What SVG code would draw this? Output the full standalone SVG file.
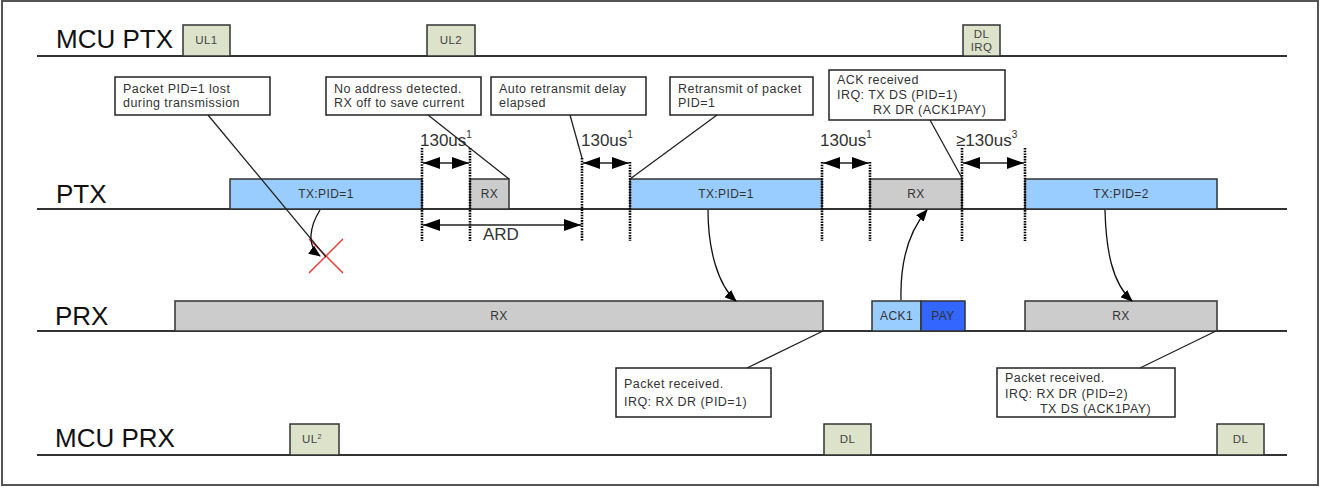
<svg xmlns="http://www.w3.org/2000/svg" width="1326" height="491" viewBox="0 0 1326 491">
<defs>
<style>
text{font-family:"Liberation Sans",Arial,sans-serif;fill:#333}
.lane{font-size:26px;fill:#111}
.base{stroke:#333;stroke-width:1.8;fill:none}
.mcu{fill:#dde2cb;stroke:#333;stroke-width:1.5}
.mt{font-size:11.5px;text-anchor:middle;fill:#444;letter-spacing:0.4px}
.tx{fill:#99ccff;stroke:#333;stroke-width:1.5}
.rx{fill:#cccccc;stroke:#333;stroke-width:1.5}
.pay{fill:#3366ff;stroke:#333;stroke-width:1.5}
.bt{font-size:12px;text-anchor:middle;fill:#333;letter-spacing:0.4px}
.call{fill:#fff;stroke:#222;stroke-width:1.5}
.ct{font-size:12.5px;fill:#333;letter-spacing:0.45px}
.lead{stroke:#222;stroke-width:1.3;fill:none}
.dot{stroke:#000;stroke-width:2.6;stroke-dasharray:1.6 1.1;fill:none}
.dim{stroke:#222;stroke-width:1.5;fill:none;marker-start:url(#big);marker-end:url(#big)}
.dl{font-size:17px;fill:#333}
.sup{font-size:10px}
.cur{stroke:#111;stroke-width:1.3;fill:none;marker-end:url(#sm)}
</style>
<marker id="big" markerWidth="17" markerHeight="12" refX="17" refY="6" orient="auto-start-reverse" markerUnits="userSpaceOnUse"><path d="M0,0 L17,6 L0,12 z" fill="#000"/></marker>
<marker id="sm" markerWidth="12" markerHeight="10" refX="11" refY="5" orient="auto" markerUnits="userSpaceOnUse"><path d="M0,0 L12,5 L0,10 z" fill="#000"/></marker>
</defs>
<rect x="2" y="1" width="1316" height="484" fill="#fff" stroke="#555" stroke-width="2"/>

<g id="lanes">
<line class="base" x1="37" y1="56" x2="1287" y2="56"/>
<line class="base" x1="37" y1="209" x2="1287" y2="209"/>
<line class="base" x1="37" y1="331" x2="1287" y2="331"/>
<line class="base" x1="37" y1="455" x2="1287" y2="455"/>
<text class="lane" x="56" y="48">MCU PTX</text>
<text class="lane" x="56" y="203">PTX</text>
<text class="lane" x="55" y="325">PRX</text>
<text class="lane" x="55" y="447">MCU PRX</text>
</g>

<g id="mcu-ptx-ul1"><rect class="mcu" x="183" y="25" width="47" height="31"/><text class="mt" x="206.5" y="44">UL1</text></g>
<g id="mcu-ptx-ul2"><rect class="mcu" x="427" y="25" width="48" height="31"/><text class="mt" x="451" y="44">UL2</text></g>
<g id="mcu-ptx-dlirq"><rect class="mcu" x="963" y="25" width="37" height="31"/><text class="mt" x="981.5" y="38">DL</text><text class="mt" x="981.5" y="51">IRQ</text></g>

<g id="mcu-prx-ul"><rect class="mcu" x="290" y="424" width="49" height="31"/><text class="mt" x="312" y="443">UL<tspan font-size="7" dy="-4">2</tspan></text></g>
<g id="mcu-prx-dl1"><rect class="mcu" x="824" y="424" width="47" height="31"/><text class="mt" x="847.5" y="443">DL</text></g>
<g id="mcu-prx-dl2"><rect class="mcu" x="1217" y="424" width="47" height="31"/><text class="mt" x="1240.5" y="443">DL</text></g>

<g id="ptx-tx1"><rect class="tx" x="230" y="179" width="192" height="30"/><text class="bt" x="326" y="198">TX:PID=1</text></g>
<g id="ptx-rx1"><rect class="rx" x="470" y="179" width="39" height="30"/><text class="bt" x="489.5" y="198">RX</text></g>
<g id="ptx-tx2"><rect class="tx" x="630" y="179" width="192" height="30"/><text class="bt" x="726" y="198">TX:PID=1</text></g>
<g id="ptx-rx2"><rect class="rx" x="870" y="179" width="92" height="30"/><text class="bt" x="916" y="198">RX</text></g>
<g id="ptx-tx3"><rect class="tx" x="1025" y="179" width="192" height="30"/><text class="bt" x="1121" y="198">TX:PID=2</text></g>

<g id="prx-rx1"><rect class="rx" x="175" y="301" width="648" height="30"/><text class="bt" x="499" y="320">RX</text></g>
<g id="prx-ack"><rect class="tx" x="872" y="301" width="49" height="30"/><text class="bt" x="896.5" y="320">ACK1</text></g>
<g id="prx-pay"><rect class="pay" x="921" y="301" width="44" height="30"/><text class="bt" x="943" y="320" fill="#112">PAY</text></g>
<g id="prx-rx2"><rect class="rx" x="1025" y="301" width="192" height="30"/><text class="bt" x="1121" y="320">RX</text></g>

<g id="timing">
<line class="dot" x1="422" y1="148" x2="422" y2="241"/>
<line class="dot" x1="470" y1="148" x2="470" y2="241"/>
<line class="dot" x1="582" y1="158" x2="582" y2="241"/>
<line class="dot" x1="630" y1="162" x2="630" y2="241"/>
<line class="dot" x1="822" y1="162" x2="822" y2="241"/>
<line class="dot" x1="870" y1="162" x2="870" y2="241"/>
<line class="dot" x1="962" y1="148" x2="962" y2="241"/>
<line class="dot" x1="1025" y1="148" x2="1025" y2="241"/>
<line class="dim" x1="423" y1="163" x2="469" y2="163"/>
<line class="dim" x1="583" y1="163" x2="629" y2="163"/>
<line class="dim" x1="823" y1="163" x2="869" y2="163"/>
<line class="dim" x1="963" y1="163" x2="1024" y2="163"/>
<line class="dim" x1="423" y1="225" x2="581" y2="225"/>
<text class="dl" x="420" y="146">130us<tspan class="sup" dy="-8">1</tspan></text>
<text class="dl" x="581" y="146">130us<tspan class="sup" dy="-8">1</tspan></text>
<text class="dl" x="820" y="146">130us<tspan class="sup" dy="-8">1</tspan></text>
<text class="dl" x="956" y="146">≥130us<tspan class="sup" dy="-8">3</tspan></text>
<text class="dl" x="483" y="240">ARD</text>
</g>

<g id="note-lost"><rect class="call" x="115" y="77" width="155" height="38"/><text class="ct" x="123" y="93">Packet PID=1 lost</text><text class="ct" x="123" y="107">during transmission</text></g>
<g id="note-noaddr"><rect class="call" x="326" y="77" width="155" height="38"/><text class="ct" x="334" y="93">No address detected.</text><text class="ct" x="334" y="107">RX off to save current</text></g>
<g id="note-ard"><rect class="call" x="491" y="77" width="155" height="38"/><text class="ct" x="499" y="93">Auto retransmit delay</text><text class="ct" x="499" y="107">elapsed</text></g>
<g id="note-retx"><rect class="call" x="670" y="77" width="143" height="38"/><text class="ct" x="678" y="93">Retransmit of packet</text><text class="ct" x="678" y="107">PID=1</text></g>
<g id="note-ack"><rect class="call" x="829" y="70" width="176" height="50"/><text class="ct" x="837" y="84">ACK received</text><text class="ct" x="837" y="99">IRQ: TX DS (PID=1)</text><text class="ct" x="873" y="114">RX DR (ACK1PAY)</text></g>
<g id="note-rx1"><rect class="call" x="616" y="368" width="155" height="49"/><text class="ct" x="624" y="388">Packet received.</text><text class="ct" x="624" y="406">IRQ: RX DR (PID=1)</text></g>
<g id="note-rx2"><rect class="call" x="997" y="368" width="178" height="49"/><text class="ct" x="1005" y="382">Packet received.</text><text class="ct" x="1005" y="398">IRQ: RX DR (PID=2)</text><text class="ct" x="1040" y="413">TX DS (ACK1PAY)</text></g>

<g id="lost-mark"><path d="M309,239 L343,273 M343,239 L309,273" stroke="#ee3333" stroke-width="1.4" fill="none"/></g>

<g id="connectors">
<line class="lead" x1="208" y1="115" x2="326" y2="257"/>
<line class="lead" x1="428" y1="115" x2="509" y2="179"/>
<line class="lead" x1="570" y1="115" x2="582" y2="158"/>
<line class="lead" x1="717" y1="115" x2="630" y2="179"/>
<line class="lead" x1="930" y1="120" x2="962" y2="178"/>
<line class="lead" x1="747" y1="368" x2="823" y2="331"/>
<line class="lead" x1="1140" y1="368" x2="1216" y2="331"/>
<path class="cur" d="M320,210 C310,226 306,246 320,256"/>
<path class="cur" d="M708,210 C708,250 718,285 736,301"/>
<path class="cur" d="M901,300 C900,260 910,230 927,210"/>
<path class="cur" d="M1105,210 C1106,250 1112,283 1132,301"/>
</g>
</svg>
